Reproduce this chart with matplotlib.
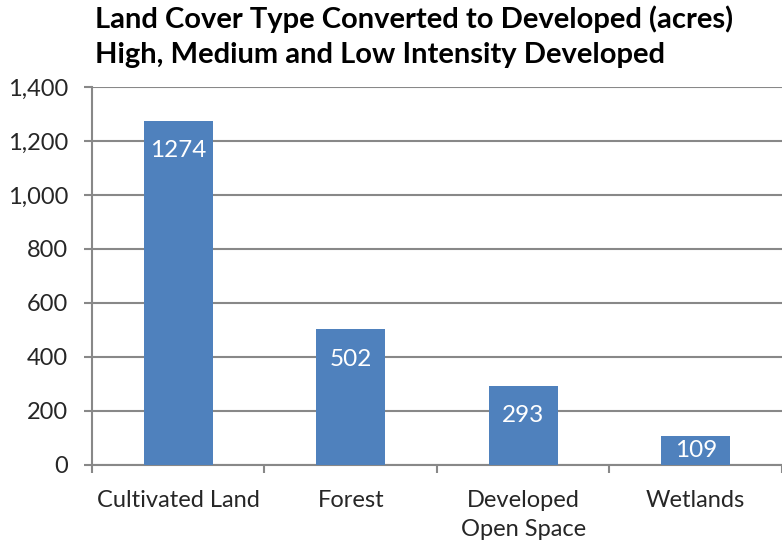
import matplotlib.pyplot as plt
import numpy as np

categories = ['Cultivated Land', 'Forest', 'Developed\nOpen Space', 'Wetlands']
acres = [1274, 502, 293, 109]
yticks = [0, 200, 400, 600, 800, 1000, 1200, 1400]

plt.rcParams['font.family'] = ['Lato', 'DejaVu Sans']

fig = plt.figure(figsize=(7.82, 5.46), dpi=100)
ax = fig.add_axes([0.1176, 0.1484, 0.8824, 0.6923])

x = np.arange(len(categories))
bars = ax.bar(x, acres, width=0.4, color='#4F81BD', zorder=3)
for b, v in zip(bars, acres):
    # label sits near the top of the bar, or in the middle if the bar is short
    ypos = max(v - 110, v / 2)
    ax.text(b.get_x() + b.get_width() / 2, ypos, str(v), ha='center', va='center',
            color='white', fontsize=17.5, zorder=4)

ax.set_xlim(-0.5, len(categories) - 0.5)
ax.set_ylim(0, 1400)
ax.set_yticks(yticks)
ax.set_yticklabels(['{:,}'.format(t) for t in yticks])
ax.set_xticks(x)
ax.set_xticklabels(categories, linespacing=1.5)
ax.set_xticks(np.arange(-0.5, len(categories) + 0.5, 1), minor=True)
ax.tick_params(axis='x', which='major', length=0, pad=18, labelsize=17, colors='#262626')
ax.tick_params(axis='x', which='minor', length=6, width=1.5, color='#888888')
ax.tick_params(axis='y', length=6, width=1.5, color='#888888', labelsize=17,
               labelcolor='#262626', pad=11)
ax.yaxis.grid(True, color='#888888', linewidth=1.5, zorder=0)
for s in ['top', 'right']:
    ax.spines[s].set_visible(False)
for s in ['left', 'bottom']:
    ax.spines[s].set_color('#888888')
    ax.spines[s].set_linewidth(1.5)

fig.text(0.121, 0.99, 'Land Cover Type Converted to Developed (acres)\nHigh, Medium and Low Intensity Developed',
         ha='left', va='top', fontsize=21, fontweight='bold', linespacing=1.42)

fig.savefig('out.png', dpi=100)
